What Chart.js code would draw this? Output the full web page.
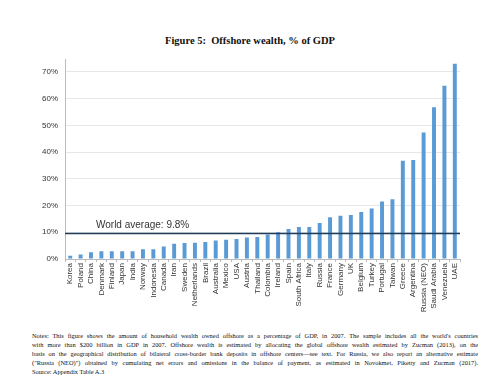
<!DOCTYPE html>
<html>
<head>
<meta charset="utf-8">
<script src="https://cdn.jsdelivr.net/npm/chart.js@4"></script>
<style>
  html, body { margin: 0; padding: 0; background: #fff; }
  body { width: 500px; height: 386px; position: relative; overflow: hidden; }
  #title {
    position: absolute; left: 0; top: 35px; width: 500px; text-align: center;
    font-family: "Liberation Serif", serif; font-weight: bold; font-size: 10.5px; color: #111;
  }
  #wrap { position: absolute; left: 0; top: 48px; width: 500px; height: 275px; }
  #notes {
    position: absolute; left: 32px; top: 331px; width: 446px;
    font-family: "Liberation Serif", serif; font-size: 6.4px; line-height: 9px; color: #111;
  }
  #notes div { text-align: justify; text-align-last: justify; white-space: nowrap; overflow: hidden; }
  #notes div.last { text-align-last: left; }
</style>
</head>
<body>
<div id="title">Figure 5:&nbsp; Offshore wealth, % of GDP</div>
<div id="wrap"><canvas id="chart"></canvas></div>
<div id="notes">
  <div>Notes: This figure shows the amount of household wealth owned offshore as a percentage of GDP, in 2007. The sample includes all the world's countries</div>
  <div>with more than $200 billion in GDP in 2007. Offshore wealth is estimated by allocating the global offshore wealth estimated by Zucman (2013), on the</div>
  <div>basis on the geographical distribution of bilateral cross-border bank deposits in offshore centers—see text. For Russia, we also report an alternative estimate</div>
  <div>("Russia (NEO)") obtained by cumulating net errors and omissions in the balance of payment, as estimated in Novokmet, Piketty and Zucman (2017).</div>
  <div class="last">Source: Appendix Table A.3</div>
</div>
<script>
// pays, trié par richesse offshore croissante
const countries = [
  'Korea', 'Poland', 'China', 'Denmark', 'Finland', 'Japan', 'India', 'Norway',
  'Indonesia', 'Canada', 'Iran', 'Sweden', 'Netherlands', 'Brazil', 'Australia',
  'Mexico', 'USA', 'Austria', 'Thailand', 'Colombia', 'Ireland', 'Spain',
  'South Africa', 'Italy', 'Russia', 'France', 'Germany', 'UK', 'Belgium',
  'Turkey', 'Portugal', 'Taiwan', 'Greece', 'Argentina', 'Russia (NEO)',
  'Saudi Arabia', 'Venezuela', 'UAE'
];
// % of GDP
const offshoreWealth = [
  1.2, 1.7, 2.5, 2.9, 2.9, 2.9, 2.9, 3.6,
  3.6, 4.7, 5.7, 6.0, 6.1, 6.4, 6.9,
  7.2, 7.5, 8.0, 8.2, 9.2, 10.0, 11.2,
  12.0, 12.0, 13.5, 15.6, 16.2, 16.5, 17.6,
  18.9, 21.5, 22.3, 36.7, 37.0, 47.3,
  56.8, 64.8, 73.0
];
const worldAverage = 9.8;
const yTicks = [0, 10, 20, 30, 40, 50, 60, 70];

// ligne de moyenne mondiale sur toute la largeur
const avgLinePlugin = {
  id: 'avgLine',
  afterDatasetsDraw(chart) {
    const { ctx, chartArea, scales } = chart;
    const y = Math.round(scales.y.getPixelForValue(worldAverage)) + 0.5;
    ctx.save();
    ctx.strokeStyle = '#1f3c5c';
    ctx.lineWidth = 1.3;
    ctx.beginPath();
    ctx.moveTo(chartArea.left, y);
    ctx.lineTo(chartArea.right, y);
    ctx.stroke();
    ctx.fillStyle = '#333';
    ctx.font = '10px "Liberation Sans", Arial, sans-serif';
    ctx.textBaseline = 'alphabetic';
    ctx.fillText(`World average: ${worldAverage}%`, chartArea.left + 31, y - 6);
    ctx.restore();
  }
};

new Chart(document.getElementById('chart'), {
  type: 'bar',
  data: {
    labels: countries,
    datasets: [{
      data: offshoreWealth,
      backgroundColor: '#5b9bd5',
      borderWidth: 0,
      barPercentage: 0.38,
      categoryPercentage: 1
    }]
  },
  options: {
    responsive: true,
    maintainAspectRatio: false,
    animation: false,
    layout: { padding: { left: 0, right: 40, top: 7, bottom: 0 } },
    plugins: { legend: { display: false }, tooltip: { enabled: false } },
    scales: {
      x: {
        afterFit: (scale) => { scale.height = 64; },
        grid: { display: true, offset: true, drawOnChartArea: false, tickLength: 3, color: '#bbb' },
        border: { color: '#bbb' },
        ticks: {
          autoSkip: false, maxRotation: 90, minRotation: 90, padding: 1,
          color: '#333', font: { family: '"Liberation Sans", Arial, sans-serif', size: 8 }
        }
      },
      y: {
        min: 0,
        max: 74.5,
        afterFit: (scale) => { scale.width = 65; },
        afterBuildTicks: (scale) => { scale.ticks = yTicks.map(v => ({ value: v })); },
        grid: { color: '#e6e6e6', tickLength: 0 },
        border: { color: '#bbb' },
        ticks: {
          padding: 7,
          color: '#333',
          font: { family: '"Liberation Sans", Arial, sans-serif', size: 8 },
          callback: (v) => v + '%'
        }
      }
    }
  },
  plugins: [avgLinePlugin]
});
</script>
</body>
</html>
